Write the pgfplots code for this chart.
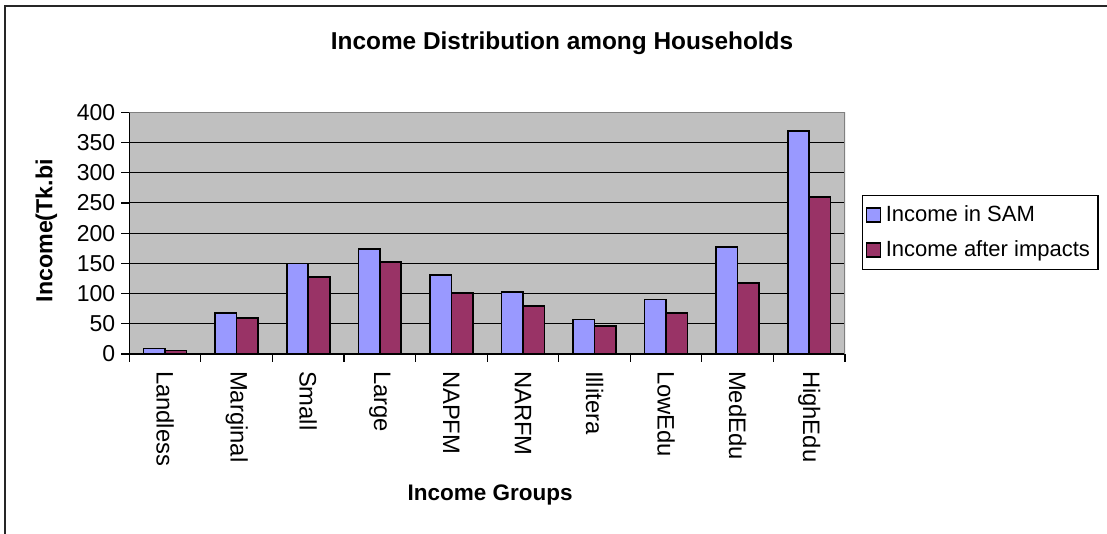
\documentclass[border=0pt]{standalone}
\usepackage{fontspec}
\setmainfont{Liberation Sans}
\usepackage{pgfplots}
\pgfplotsset{compat=1.18}
\definecolor{sam}{HTML}{9999FF}
\definecolor{aft}{HTML}{993366}
\definecolor{plotbg}{HTML}{C0C0C0}
\definecolor{bordergray}{HTML}{808080}
\begin{document}
\begin{tikzpicture}
\useasboundingbox (0,0) rectangle (553.5pt,267pt);
\draw[line width=0.6pt, black!85] (2.5pt,-2pt) -- (2.5pt,264pt) -- (560pt,264pt);
\begin{axis}[
  at={(64.65pt,90pt)}, anchor=south west,
  scale only axis, width=357.85pt, height=120.85pt,
  xmin=-0.5, xmax=9.5, ymin=0, ymax=400,
  ybar=0pt, bar width=0.3,
  axis background/.style={fill=plotbg},
  axis lines=left, axis line style={-, black, line width=0.6pt},
  /pgf/number format/assume math mode=true,
  ytick={0,50,...,400},
  ymajorgrids, grid style={black, line width=0.5pt},
  tick align=outside,
  major tick length=4pt,
  ytick style={black, line width=0.6pt},
  xtick={0,...,9},
  xticklabels={Landless,Marginal,Small,Large,NAPFM,NARFM,Illitera,LowEdu,MedEdu,HighEdu},
  xtick style={draw=none},
  extra x ticks={-0.5,0.5,...,9.5},
  extra x tick labels={},
  extra x tick style={xtick style={draw=black, line width=0.6pt}},
  yticklabel style={font=\fontsize{11.5pt}{12pt}\selectfont, xshift=0.5pt},
  xticklabel style={font=\fontsize{11.9pt}{12pt}\selectfont, rotate=-90, anchor=west, xshift=1pt},
  xlabel={\bfseries Income Groups},
  xlabel style={font=\fontsize{11.25pt}{12pt}\selectfont, at={(axis description cs:0.504,-0.583)}, anchor=center},
  ylabel={\bfseries Income(Tk.bi},
  ylabel style={font=\fontsize{11.6pt}{12pt}\selectfont, at={(axis description cs:-0.116,0.51)}, anchor=center},
  title={\bfseries Income Distribution among Households},
  title style={font=\fontsize{12.2pt}{13pt}\selectfont, at={(axis description cs:0.6046,1.295)}, anchor=center, yshift=-7pt},
  legend style={at={(axis description cs:1.0237,0.658)}, anchor=north west,
    draw=black, line width=0.6pt, font=\fontsize{11pt}{13pt}\selectfont,
    inner xsep=1.5pt, inner ysep=3.5pt, row sep=5pt,
    nodes={inner ysep=1.5pt, inner xsep=2.5pt}},
  legend cell align=left,
  legend image code/.code={\draw[#1, line width=0.6pt] (0pt,-3.5pt) rectangle (7pt,3.5pt);},
]
\addplot[fill=sam, draw=black, line width=0.8pt] coordinates {(0,9) (1,68) (2,150) (3,174) (4,131) (5,103) (6,57) (7,90) (8,177) (9,369)};
\addplot[fill=aft, draw=black, line width=0.8pt] coordinates {(0,5.5) (1,60) (2,127) (3,152) (4,101) (5,79) (6,46) (7,68) (8,117) (9,260)};
\legend{Income in SAM, Income after impacts}
\draw[bordergray, line width=0.6pt] (rel axis cs:0,1) -- (rel axis cs:1,1) -- (rel axis cs:1,0);
\end{axis}
\end{tikzpicture}
\end{document}
